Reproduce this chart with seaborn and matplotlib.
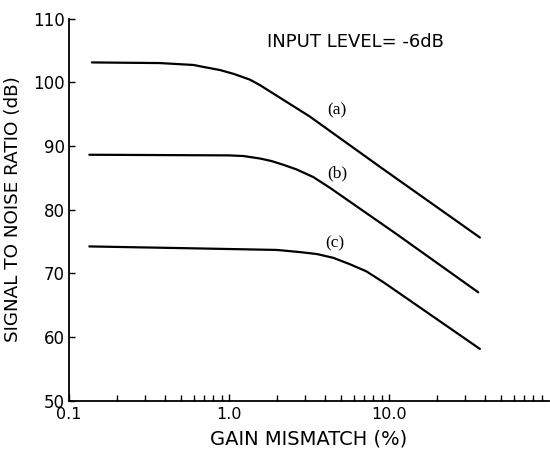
import matplotlib
matplotlib.use("Agg")
import matplotlib.pyplot as plt
import matplotlib.ticker as mticker
import numpy as np
import pandas as pd
import seaborn as sns

# Signal-to-noise ratio versus channel gain mismatch, input level -6 dB
gain_a = [0.139, 0.37, 0.60, 0.69, 0.88, 1.07, 1.35, 1.57, 1.98, 2.5, 3.2, 8.78, 37.0]
snr_a = [103.1, 103.0, 102.7, 102.4, 101.9, 101.3, 100.4, 99.5, 97.9, 96.3, 94.6, 86.7, 75.6]

gain_b = [0.134, 1.0, 1.23, 1.57, 1.85, 2.2, 2.64, 3.36, 4.28, 11.2, 36.1]
snr_b = [88.6, 88.5, 88.4, 88.0, 87.6, 87.0, 86.3, 85.1, 83.4, 76.1, 67.0]

gain_c = [0.134, 0.60, 1.98, 2.2, 2.8, 3.55, 4.5, 5.7, 7.2, 9.2, 10.1, 37.0]
snr_c = [74.2, 73.9, 73.65, 73.55, 73.3, 73.0, 72.4, 71.4, 70.3, 68.6, 67.9, 58.1]

curve_names = ["(a)", "(b)", "(c)"]
label_pos_x = [4.73, 4.73, 4.6]
label_pos_y = [95.6, 85.6, 74.6]

df = pd.concat([
    pd.DataFrame({"gain": g, "snr": s, "curve": n})
    for g, s, n in zip([gain_a, gain_b, gain_c], [snr_a, snr_b, snr_c], curve_names)
], ignore_index=True)

sns.set_style("ticks")
plt.rcParams.update({
    "font.family": ["DejaVu Sans"],
    "text.color": "black",
    "axes.labelcolor": "black",
    "axes.edgecolor": "black",
    "xtick.color": "black",
    "ytick.color": "black",
})

fig = plt.figure(figsize=(5.50, 4.51), dpi=100)
ax = fig.add_axes([69 / 550, 1 - 400.5 / 451, 480 / 550, 382 / 451])

sns.lineplot(data=df, x="gain", y="snr", hue="curve", units="curve",
             estimator=None, sort=False, palette=["black"] * 3,
             linewidth=1.6, legend=False, ax=ax)

ax.set_xscale("log")
ax.set_xlim(0.1, 100)
ax.set_ylim(50, 110)

ax.xaxis.set_major_locator(mticker.FixedLocator([0.1, 1.0, 10.0]))
ax.xaxis.set_major_formatter(mticker.FixedFormatter(["0.1", "1.0", "10.0"]))
ax.xaxis.set_minor_locator(mticker.LogLocator(base=10, subs=np.arange(2, 10)))
ax.xaxis.set_minor_formatter(mticker.NullFormatter())
ax.yaxis.set_major_locator(mticker.MultipleLocator(10))

ax.tick_params(axis="x", which="major", direction="in", length=5, width=1,
               labelsize=11.5, pad=5)
ax.tick_params(axis="x", which="minor", direction="in", length=4, width=1)
ax.tick_params(axis="y", which="major", direction="in", length=4, width=1,
               labelsize=12, pad=3)

sns.despine(ax=ax)
for side in ("left", "bottom"):
    ax.spines[side].set_linewidth(1.3)

ax.set_xlabel("GAIN MISMATCH (%)", fontsize=14, labelpad=5)
ax.set_ylabel("SIGNAL TO NOISE RATIO (dB)", fontsize=13.2, labelpad=8)

for name, lx, ly in zip(curve_names, label_pos_x, label_pos_y):
    ax.text(lx, ly, name, ha="center", va="center", fontsize=12.5,
            family=["Liberation Serif"])

ax.text(0.412, 0.938, "INPUT LEVEL= -6dB", transform=ax.transAxes,
        ha="left", va="center", fontsize=13)

fig.savefig("out.png", dpi=100)
